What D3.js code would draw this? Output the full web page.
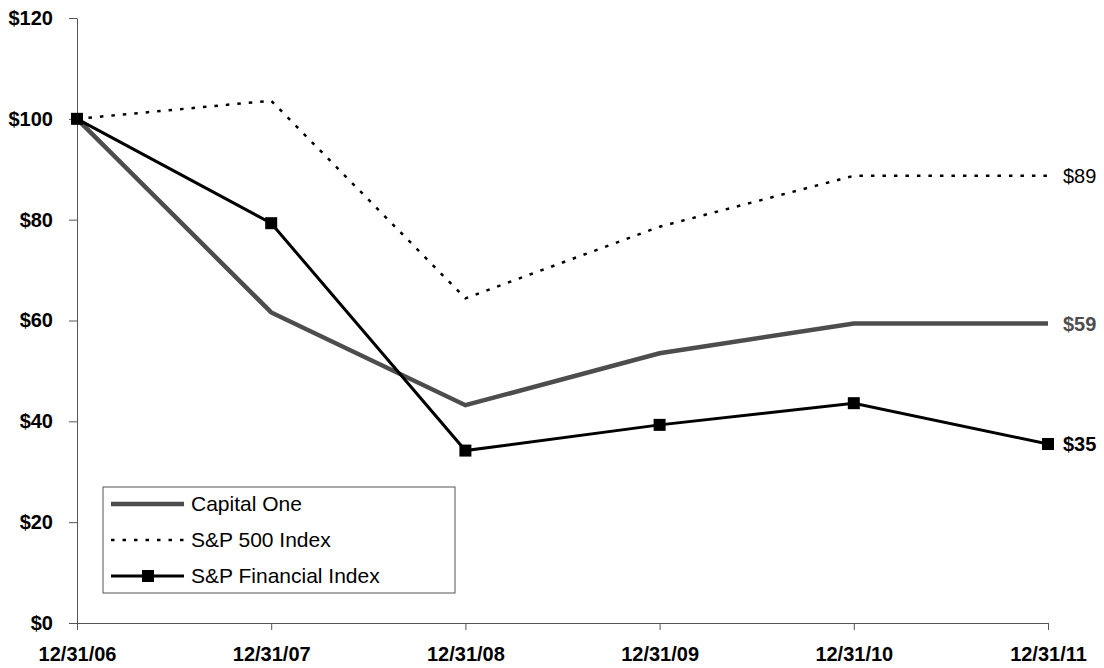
<!DOCTYPE html>
<html>
<head>
<meta charset="utf-8">
<script src="https://cdn.jsdelivr.net/npm/d3@7"></script>
<style>
  body { margin: 0; background: #fff; }
  text { font-family: Arial, "Liberation Sans", sans-serif; }
  .axis path, .axis line { stroke: #555; }
  .axis text { font-weight: bold; font-size: 20px; fill: #000; }
</style>
</head>
<body>
<script>
// Define SVG area dimensions
var svgWidth = 1104;
var svgHeight = 668;

var margin = { top: 18, right: 56, bottom: 45, left: 77 };
var chartWidth = svgWidth - margin.left - margin.right;
var chartHeight = svgHeight - margin.top - margin.bottom;

// data
var dates = ["12/31/06", "12/31/07", "12/31/08", "12/31/09", "12/31/10", "12/31/11"];
var capitalOne = [100, 61.6, 43.2, 53.5, 59.4, 59.4];
var sp500 = [100, 103.6, 64.4, 78.6, 88.7, 88.7];
var spFinancial = [100, 79.3, 34.2, 39.3, 43.6, 35.5];
var yTicks = [0, 20, 40, 60, 80, 100, 120];
var endLabels = ["$59", "$89", "$35"];

var svg = d3.select("body")
  .append("svg")
  .attr("width", svgWidth)
  .attr("height", svgHeight);

var chartGroup = svg.append("g")
  .attr("transform", `translate(${margin.left}, ${margin.top})`);

var xScale = d3.scalePoint()
  .domain(dates)
  .range([0, chartWidth]);

var yScale = d3.scaleLinear()
  .domain([0, 120])
  .range([chartHeight, 0]);

var leftAxis = d3.axisLeft(yScale)
  .tickValues(yTicks)
  .tickFormat(d => "$" + d)
  .tickSize(8)
  .tickSizeOuter(0)
  .tickPadding(16);

var bottomAxis = d3.axisBottom(xScale)
  .tickSize(7)
  .tickSizeOuter(0)
  .tickPadding(17);

chartGroup.append("g")
  .attr("class", "axis")
  .call(leftAxis);

chartGroup.append("g")
  .attr("class", "axis")
  .attr("transform", `translate(0, ${chartHeight})`)
  .call(bottomAxis);

var drawLine = d3.line()
  .x((d, i) => xScale(dates[i]))
  .y(d => yScale(d));

// series styling
var series = [
  { name: "Capital One", values: capitalOne, color: "#4d4d4d", width: 4.5, dash: null, marker: false, label: endLabels[0], bold: true },
  { name: "S&P 500 Index", values: sp500, color: "#000", width: 2.5, dash: "3.5,8", marker: false, label: endLabels[1], bold: false },
  { name: "S&P Financial Index", values: spFinancial, color: "#000", width: 3, dash: null, marker: true, label: endLabels[2], bold: true }
];

series.forEach(function(s) {
  chartGroup.append("path")
    .datum(s.values)
    .attr("fill", "none")
    .attr("stroke", s.color)
    .attr("stroke-width", s.width)
    .attr("stroke-dasharray", s.dash)
    .attr("d", drawLine);

  if (s.marker) {
    chartGroup.selectAll(".marker")
      .data(s.values)
      .enter()
      .append("rect")
      .attr("x", (d, i) => xScale(dates[i]) - 6)
      .attr("y", d => yScale(d) - 6)
      .attr("width", 12)
      .attr("height", 12)
      .attr("fill", s.color);
  }

  var last = s.values[s.values.length - 1];
  chartGroup.append("text")
    .attr("x", chartWidth + 15)
    .attr("y", yScale(last))
    .attr("dy", "0.35em")
    .attr("font-size", "20px")
    .attr("font-weight", s.bold ? "bold" : "normal")
    .attr("fill", s.color)
    .text(s.label);
});

// legend
var legend = svg.append("g")
  .attr("transform", "translate(103, 487)");

legend.append("rect")
  .attr("width", 352)
  .attr("height", 106)
  .attr("fill", "#fff")
  .attr("stroke", "#555")
  .attr("stroke-width", 1);

series.forEach(function(s, i) {
  var y = 17 + i * 36;
  legend.append("line")
    .attr("x1", 8)
    .attr("x2", 81)
    .attr("y1", y)
    .attr("y2", y)
    .attr("stroke", s.color)
    .attr("stroke-width", s.width)
    .attr("stroke-dasharray", s.dash);
  if (s.marker) {
    legend.append("rect")
      .attr("x", 39)
      .attr("y", y - 6)
      .attr("width", 12)
      .attr("height", 12)
      .attr("fill", s.color);
  }
  legend.append("text")
    .attr("x", 88)
    .attr("y", y)
    .attr("dy", "0.35em")
    .attr("font-size", "21px")
    .text(s.name);
});
</script>
</body>
</html>
